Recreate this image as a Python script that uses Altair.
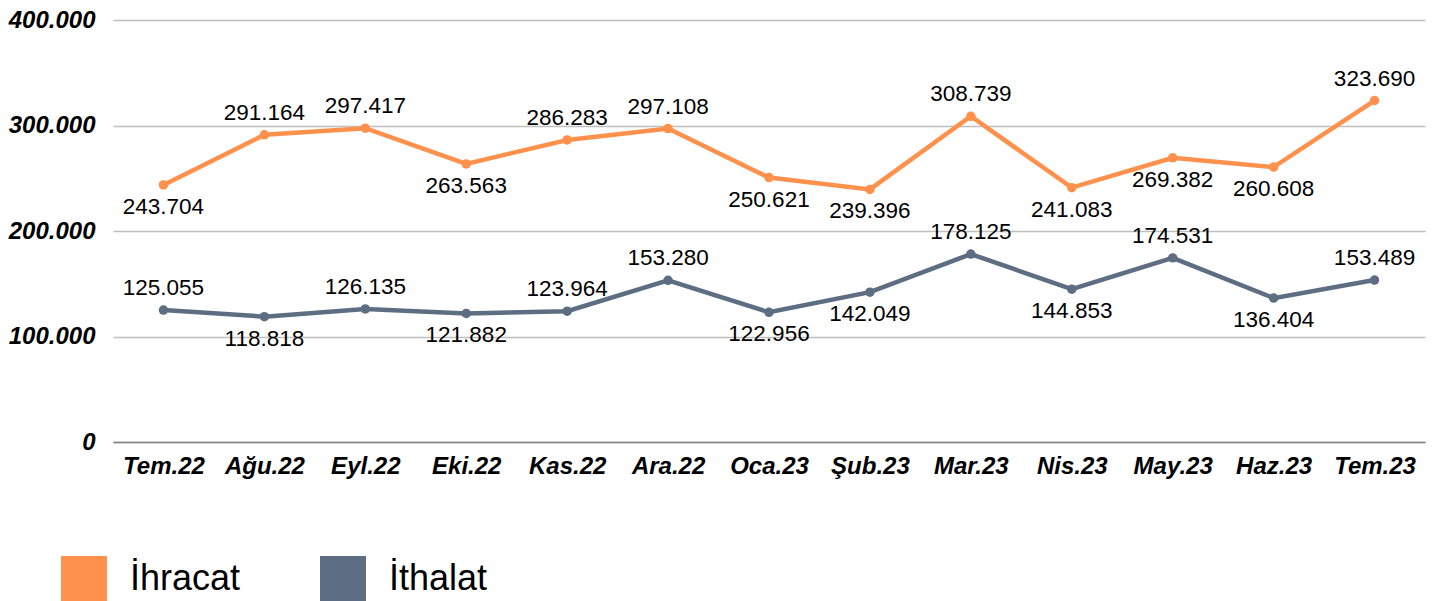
import altair as alt
import pandas as pd

months = ["Tem.22", "Ağu.22", "Eyl.22", "Eki.22", "Kas.22", "Ara.22", "Oca.23",
          "Şub.23", "Mar.23", "Nis.23", "May.23", "Haz.23", "Tem.23"]
ihracat = [243704, 291164, 297417, 263563, 286283, 297108, 250621,
           239396, 308739, 241083, 269382, 260608, 323690]
ithalat = [125055, 118818, 126135, 121882, 123964, 153280, 122956,
           142049, 178125, 144853, 174531, 136404, 153489]
ihracat_pos = ["below", "above", "above", "below", "above", "above", "below",
               "below", "above", "below", "below", "below", "above"]
ithalat_pos = ["above", "below", "above", "below", "above", "above", "below",
               "below", "above", "below", "above", "below", "above"]
series = ["İhracat", "İthalat"]
colors = ["#FF914D", "#5D6D82"]

rows = []
for i, m in enumerate(months):
    rows.append({"month": m, "series": series[0], "value": ihracat[i], "pos": ihracat_pos[i]})
    rows.append({"month": m, "series": series[1], "value": ithalat[i], "pos": ithalat_pos[i]})
df = pd.DataFrame(rows)

FONT = "Liberation Sans"

x = alt.X("month:N", sort=months, scale=alt.Scale(paddingInner=0, paddingOuter=0),
          axis=alt.Axis(title=None, labelAngle=0, labelFontSize=24, labelFontWeight="bold",
                        labelFontStyle="italic", labelColor="#000000", labelPadding=12,
                        ticks=False, domainColor="#808080", domainWidth=1.5, labelFont=FONT))
y = alt.Y("value:Q", scale=alt.Scale(domain=[0, 400000]),
          axis=alt.Axis(title=None, values=[0, 100000, 200000, 300000, 400000],
                        labelExpr="replace(format(datum.value, ',.0f'), ',', '.')",
                        labelFontSize=24, labelFontWeight="bold", labelFontStyle="italic",
                        labelColor="#000000", labelPadding=18, ticks=False, domain=False,
                        gridColor="#BFBFBF", gridWidth=1.5, labelFont=FONT))
color = alt.Color("series:N", scale=alt.Scale(domain=series, range=colors),
                  legend=alt.Legend(title=None, orient="none", legendX=-52, legendY=536,
                                    direction="horizontal", symbolType="square",
                                    symbolSize=2116, symbolStrokeWidth=0, symbolOpacity=1,
                                    labelFontSize=36, labelFont=FONT, labelColor="#000000",
                                    columnPadding=79, labelOffset=23, symbolFillColor=None))

base = alt.Chart(df).encode(x=x, y=y)

lines = base.mark_line(strokeWidth=4.5).encode(color=color)
points = base.mark_point(filled=True, size=90, opacity=1).encode(
    color=alt.Color("series:N", scale=alt.Scale(domain=series, range=colors), legend=None))

lbl = base.transform_calculate(
    label="replace(format(datum.value, ',.0f'), ',', '.')")
above = lbl.transform_filter("datum.pos == 'above'").mark_text(
    dy=-22, fontSize=22.5, font=FONT, color="#000000").encode(text="label:N")
below = lbl.transform_filter("datum.pos == 'below'").mark_text(
    dy=22, fontSize=22.5, font=FONT, color="#000000").encode(text="label:N")

chart = alt.layer(lines, points, above, below).properties(
    width=1312, height=422,
    autosize=alt.AutoSizeParams(type="none"),
    padding={"left": 105, "top": 12, "right": 2, "bottom": 159},
).configure_view(stroke=None)

chart.save("out.html", embed_options={"renderer": "svg", "actions": False})
